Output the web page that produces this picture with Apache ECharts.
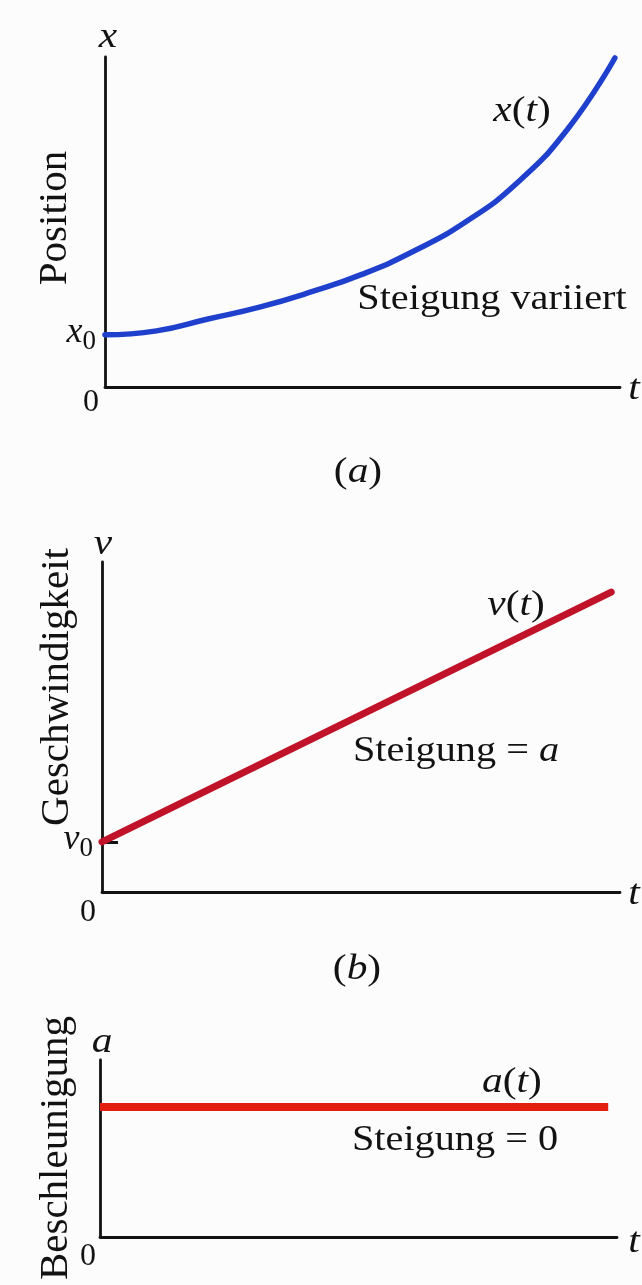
<!DOCTYPE html>
<html>
<head>
<meta charset="utf-8">
<script src="https://cdn.jsdelivr.net/npm/echarts@6/dist/echarts.min.js"></script>
<style>
  html, body { margin: 0; padding: 0; background: #fcfcfc; }
  #chart { width: 642px; height: 1285px; }
</style>
</head>
<body>
<div id="chart"></div>
<script>
// (a) position grows with time, slope varies
const T_A = [0, 1, 2, 3, 4, 5, 6, 7, 8, 9, 9.9];
const POS_A = [1.58, 1.70, 2.06, 2.42, 2.88, 3.42, 4.12, 5.00, 6.18, 7.85, 9.97];
// (b) velocity rises linearly from v0, slope = a
const T_B = [0, 9.83];
const VEL_B = [1.52, 9.09];
// (c) acceleration is constant, slope = 0
const T_C = [0, 9.83];
const ACC_C = [7.34, 7.34];

const AXIS_MIN = 0;
const AXIS_MAX = 10;

const SERIF = '"Liberation Serif", "Times New Roman", serif';
const INK = '#121212';

const pairs = (xs, ys) => xs.map((x, i) => [x, ys[i]]);

const grids = [
  { left: 105, top: 57, width: 515, height: 330 },
  { left: 102, top: 562, width: 518, height: 330 },
  { left: 100, top: 1060, width: 517, height: 177 }
];

function xAxisFor(i) {
  return {
    type: 'value', gridIndex: i, min: AXIS_MIN, max: AXIS_MAX,
    axisLine: { show: true, onZero: false, lineStyle: { color: INK, width: 2.8 } },
    axisTick: { show: false }, axisLabel: { show: false }, splitLine: { show: false }
  };
}

function yAxisFor(i, extra) {
  return Object.assign({
    type: 'value', gridIndex: i, min: AXIS_MIN, max: AXIS_MAX,
    axisLine: { show: true, onZero: false, lineStyle: { color: INK, width: 2.8 } },
    axisTick: { show: false }, axisLabel: { show: false }, splitLine: { show: false }
  }, extra || {});
}

const subLabel = (letter, values) => ({
  show: true,
  customValues: values,
  margin: 9,
  formatter: () => '{i|' + letter + '}{s|0}',
  rich: {
    i: { fontFamily: SERIF, fontStyle: 'italic', fontSize: 36, color: INK, padding: [0, 0, 4, 0] },
    s: { fontFamily: SERIF, fontSize: 27, color: INK, padding: [14, 0, 0, 0] }
  }
});

// text annotations
function txt(text, x, y, size, opts) {
  opts = opts || {};
  return {
    type: 'text', x: x, y: y,
    rotation: opts.rotation || 0,
    scaleX: opts.scaleX || 1,
    silent: true,
    style: {
      x: 0, y: 0,
      text: text,
      fill: INK,
      fontFamily: SERIF,
      fontSize: size,
      fontStyle: opts.italic ? 'italic' : 'normal',
      align: 'center',
      verticalAlign: 'middle',
      rich: {
        i: { fontFamily: SERIF, fontStyle: 'italic', fontSize: size, fill: INK },
        r: { fontFamily: SERIF, fontSize: size, fill: INK }
      }
    }
  };
}

const W = 1.15; // horizontal widening of the lettering

const graphics = [
  // panel (a)
  txt('x', 108, 38, 36, { italic: true, scaleX: W }),
  txt('Position', 55, 218, 41, { rotation: Math.PI / 2 }),
  txt('{i|x}{r|(}{i|t}{r|)}', 522, 112, 36, { scaleX: W }),
  txt('Steigung variiert', 492, 300, 35, { scaleX: W }),
  txt('t', 634, 390, 36, { italic: true, scaleX: W }),
  txt('0', 91, 403, 32),
  txt('{r|(}{i|a}{r|)}', 358, 473, 36, { scaleX: W }),
  // panel (b)
  txt('v', 103, 545, 36, { italic: true, scaleX: W }),
  txt('Geschwindigkeit', 57, 687, 41, { rotation: Math.PI / 2 }),
  txt('{i|v}{r|(}{i|t}{r|)}', 516, 606, 36, { scaleX: W }),
  txt('{r|Steigung = }{i|a}', 456, 752, 35, { scaleX: W }),
  txt('t', 634, 895, 36, { italic: true, scaleX: W }),
  txt('0', 88, 913, 32),
  txt('{r|(}{i|b}{r|)}', 357, 970, 36, { scaleX: W }),
  // panel (c)
  txt('a', 102, 1043, 36, { italic: true, scaleX: W }),
  txt('Beschleunigung', 56, 1148, 41, { rotation: Math.PI / 2 }),
  txt('{i|a}{r|(}{i|t}{r|)}', 512, 1083, 36, { scaleX: W }),
  txt('Steigung = 0', 455, 1141, 35, { scaleX: W }),
  txt('t', 634, 1243, 36, { italic: true, scaleX: W }),
  txt('0', 88, 1257, 32)
];

const chart = echarts.init(document.getElementById('chart'), null, { renderer: 'canvas' });

chart.setOption({
  backgroundColor: '#fcfcfc',
  animation: false,
  grid: grids,
  xAxis: [xAxisFor(0), xAxisFor(1), xAxisFor(2)],
  yAxis: [
    yAxisFor(0, { axisLabel: subLabel('x', [POS_A[0]]) }),
    yAxisFor(1, {
      axisLabel: subLabel('v', [VEL_B[0]]),
      axisTick: { show: true, inside: true, length: 16, customValues: [VEL_B[0]], lineStyle: { color: INK, width: 3 } }
    }),
    yAxisFor(2)
  ],
  series: [
    {
      name: 'x(t)', type: 'line', xAxisIndex: 0, yAxisIndex: 0,
      data: pairs(T_A, POS_A), smooth: true, showSymbol: false,
      lineStyle: { color: '#1f40cc', width: 5.5, cap: 'round' }
    },
    {
      name: 'v(t)', type: 'line', xAxisIndex: 1, yAxisIndex: 1,
      data: pairs(T_B, VEL_B), showSymbol: false,
      lineStyle: { color: '#c01228', width: 7, cap: 'round' }
    },
    {
      name: 'a(t)', type: 'line', xAxisIndex: 2, yAxisIndex: 2,
      data: pairs(T_C, ACC_C), showSymbol: false,
      lineStyle: { color: '#e3200f', width: 8 }
    }
  ],
  graphic: graphics
});
</script>
</body>
</html>
